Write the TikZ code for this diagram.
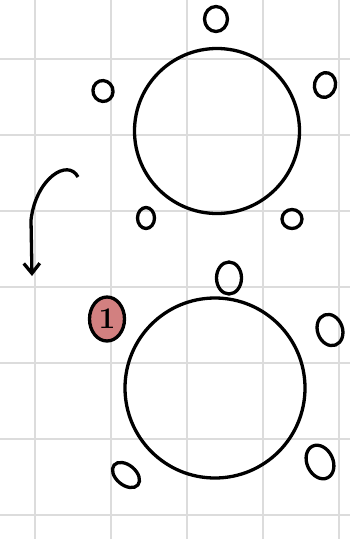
\documentclass[tikz,border=0pt]{standalone}
\usepackage{tikz}
\usetikzlibrary{arrows.meta,shapes.geometric}
\definecolor{GridGray}{RGB}{220,220,220}
\definecolor{SeatRed}{RGB}{210,128,128}

\begin{document}
\begin{tikzpicture}[
  x=1pt, y=-1pt,
  gridline/.style={draw=GridGray, line width=2.4pt},
  table/.style={circle, draw=black, line width=3.3pt, inner sep=0pt},
  seat/.style={ellipse, draw=black, line width=3.3pt, inner sep=0pt},
  arrowline/.style={-{Straight Barb[length=10pt,width=16pt]}, line width=3.3pt, draw=black}
]
\useasboundingbox[fill=white] (0,0) rectangle (350,539);
% grid
\foreach \gx in {35,111,187,263,339}
  \draw[gridline] (\gx,0) -- (\gx,539);
\foreach \gy in {59,135,211,287,363,439,515}
  \draw[gridline] (0,\gy) -- (350,\gy);

% top table and its seats
\node[table, minimum size=165pt] (tableA) at (217,131) {};
\node[seat, minimum width=23pt, minimum height=25pt] (a1) at (216,19) {};
\node[seat, minimum width=20pt, minimum height=21pt, rotate=20] (a2) at (103,91) {};
\node[seat, minimum width=21pt, minimum height=25pt, rotate=-15] (a3) at (325,85) {};
\node[seat, minimum width=17pt, minimum height=21pt] (a4) at (146,218) {};
\node[seat, minimum width=20pt, minimum height=19pt] (a5) at (292,219) {};

% bottom table and its seats
\node[table, minimum size=180pt] (tableB) at (215,388) {};
\node[seat, minimum width=25pt, minimum height=32pt] (b1) at (229,278) {};
\node[seat, fill=SeatRed, minimum width=35pt, minimum height=44pt,
      font=\fontsize{30}{30}\selectfont\bfseries] (b2) at (107,319) {1};
\node[seat, minimum width=25pt, minimum height=32pt, rotate=20] (b3) at (330,330) {};
\node[seat, minimum width=31pt, minimum height=20pt, rotate=-40] (b4) at (126,475) {};
\node[seat, minimum width=26pt, minimum height=35pt, rotate=25] (b5) at (320,462) {};

% move arrow
\coordinate (from) at (78,177);
\coordinate (to) at (32,276);
\draw[arrowline] (from) .. controls (68,158) and (36,178) .. (31,220) -- (to);
\end{tikzpicture}
\end{document}
